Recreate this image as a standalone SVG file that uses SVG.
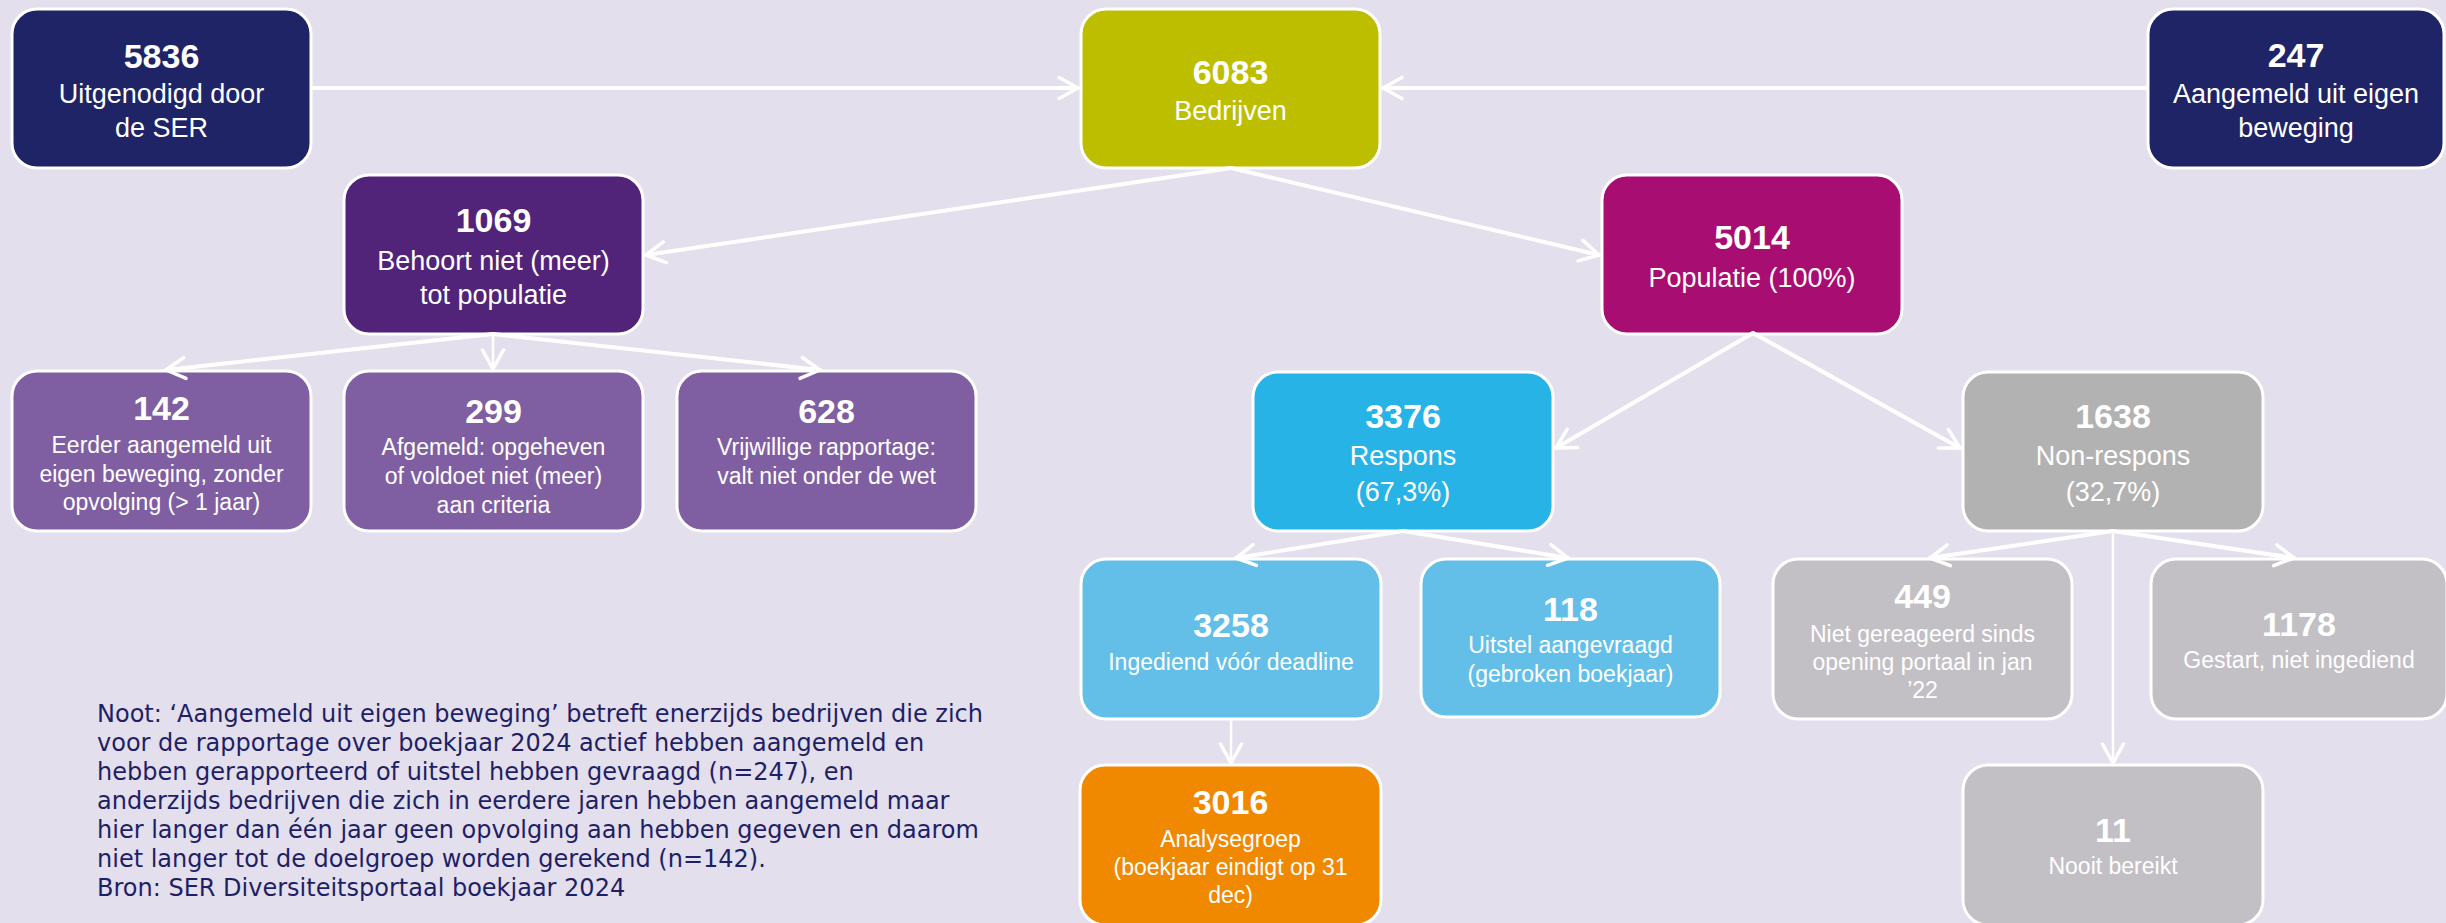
<svg xmlns="http://www.w3.org/2000/svg" width="2446" height="923" viewBox="0 0 2446 923">
<defs>
<style>
.box{stroke:#ffffff;stroke-width:3}
.num{font-family:"Liberation Sans",Arial,sans-serif;font-weight:bold;font-size:34px;fill:#ffffff;text-anchor:middle}
.lbl{font-family:"Liberation Sans",Arial,sans-serif;font-size:27px;fill:#ffffff;text-anchor:middle}
.sm{font-family:"Liberation Sans",Arial,sans-serif;font-size:23px;fill:#ffffff;text-anchor:middle}
.con{stroke:#ffffff;stroke-width:4;fill:none;stroke-linecap:round;marker-end:url(#arr)}
.thin{stroke:#ffffff;stroke-width:2.5;fill:none;marker-end:url(#arr)}
.note{font-family:"DejaVu Sans",Verdana,sans-serif;font-size:24px;fill:#1F1F66}
</style>
<marker id="arr" markerUnits="userSpaceOnUse" viewBox="-22 -13 24 26" markerWidth="24" markerHeight="26" refX="0" refY="0" orient="auto">
<path d="M-19,-10.5 L0,0 L-19,10.5" fill="none" stroke="#ffffff" stroke-width="3.5" stroke-linecap="round" stroke-linejoin="round"/>
</marker>
</defs>
<rect x="0" y="0" width="2446" height="923" fill="#E3DFEC"/>

<g id="n5836">
<rect class="box" x="12" y="9" width="299" height="159" rx="25" fill="#1F2466"/>
<text class="num" x="161.5" y="68">5836</text>
<text class="lbl" x="161.5" y="103">Uitgenodigd door</text>
<text class="lbl" x="161.5" y="137">de SER</text>
</g>
<g id="n6083">
<rect class="box" x="1081" y="9" width="299" height="159" rx="25" fill="#BEBE00"/>
<text class="num" x="1230.5" y="84">6083</text>
<text class="lbl" x="1230.5" y="120">Bedrijven</text>
</g>
<g id="n247">
<rect class="box" x="2148" y="9" width="296" height="159" rx="25" fill="#1F2466"/>
<text class="num" x="2296" y="67">247</text>
<text class="lbl" x="2296" y="103">Aangemeld uit eigen</text>
<text class="lbl" x="2296" y="137">beweging</text>
</g>
<g id="n1069">
<rect class="box" x="344" y="175" width="299" height="159" rx="25" fill="#51247A"/>
<text class="num" x="493.5" y="232">1069</text>
<text class="lbl" x="493.5" y="270">Behoort niet (meer)</text>
<text class="lbl" x="493.5" y="304">tot populatie</text>
</g>
<g id="n5014">
<rect class="box" x="1602" y="175" width="300" height="159" rx="25" fill="#A80D72"/>
<text class="num" x="1752" y="249">5014</text>
<text class="lbl" x="1752" y="287">Populatie (100%)</text>
</g>
<g id="n142">
<rect class="box" x="12" y="371" width="299" height="160" rx="25" fill="#7F5FA2"/>
<text class="num" x="161.5" y="420">142</text>
<text class="sm" x="161.5" y="453">Eerder aangemeld uit</text>
<text class="sm" x="161.5" y="482">eigen beweging, zonder</text>
<text class="sm" x="161.5" y="510">opvolging (&gt; 1 jaar)</text>
</g>
<g id="n299">
<rect class="box" x="344" y="371" width="299" height="160" rx="25" fill="#7F5FA2"/>
<text class="num" x="493.5" y="423">299</text>
<text class="sm" x="493.5" y="455">Afgemeld: opgeheven</text>
<text class="sm" x="493.5" y="484">of voldoet niet (meer)</text>
<text class="sm" x="493.5" y="513">aan criteria</text>
</g>
<g id="n628">
<rect class="box" x="677" y="371" width="299" height="160" rx="25" fill="#7F5FA2"/>
<text class="num" x="826.5" y="423">628</text>
<text class="sm" x="826.5" y="455">Vrijwillige rapportage:</text>
<text class="sm" x="826.5" y="484">valt niet onder de wet</text>
</g>
<g id="n3376">
<rect class="box" x="1253" y="372" width="300" height="159" rx="25" fill="#27B3E6"/>
<text class="num" x="1403" y="428">3376</text>
<text class="lbl" x="1403" y="465">Respons</text>
<text class="lbl" x="1403" y="501">(67,3%)</text>
</g>
<g id="n1638">
<rect class="box" x="1963" y="372" width="300" height="159" rx="25" fill="#B2B2B2"/>
<text class="num" x="2113" y="428">1638</text>
<text class="lbl" x="2113" y="465">Non-respons</text>
<text class="lbl" x="2113" y="501">(32,7%)</text>
</g>
<g id="n3258">
<rect class="box" x="1081" y="559" width="300" height="160" rx="25" fill="#63BFE8"/>
<text class="num" x="1231" y="637">3258</text>
<text class="sm" x="1231" y="670">Ingediend vóór deadline</text>
</g>
<g id="n118">
<rect class="box" x="1421" y="559" width="299" height="158" rx="25" fill="#63BFE8"/>
<text class="num" x="1570.5" y="621">118</text>
<text class="sm" x="1570.5" y="653">Uitstel aangevraagd</text>
<text class="sm" x="1570.5" y="682">(gebroken boekjaar)</text>
</g>
<g id="n449">
<rect class="box" x="1773" y="559" width="299" height="160" rx="25" fill="#C2C0C5"/>
<text class="num" x="1922.5" y="608">449</text>
<text class="sm" x="1922.5" y="642">Niet gereageerd sinds</text>
<text class="sm" x="1922.5" y="670">opening portaal in jan</text>
<text class="sm" x="1922.5" y="698">’22</text>
</g>
<g id="n1178">
<rect class="box" x="2151" y="559" width="296" height="160" rx="25" fill="#C2C0C5"/>
<text class="num" x="2299" y="636">1178</text>
<text class="sm" x="2299" y="668">Gestart, niet ingediend</text>
</g>
<g id="n3016">
<rect class="box" x="1080" y="765" width="301" height="160" rx="25" fill="#F08800"/>
<text class="num" x="1230.5" y="814">3016</text>
<text class="sm" x="1230.5" y="847">Analysegroep</text>
<text class="sm" x="1230.5" y="875">(boekjaar eindigt op 31</text>
<text class="sm" x="1230.5" y="903">dec)</text>
</g>
<g id="n11">
<rect class="box" x="1963" y="765" width="300" height="160" rx="25" fill="#C2C0C5"/>
<text class="num" x="2113" y="842">11</text>
<text class="sm" x="2113" y="874">Nooit bereikt</text>
</g>

<g id="connectors">
<line class="con" x1="312" y1="88" x2="1078" y2="88"/>
<line class="con" x1="2147" y1="88" x2="1383" y2="88"/>
<line class="con" x1="1231" y1="168" x2="646" y2="255"/>
<line class="con" x1="1231" y1="168" x2="1599" y2="255"/>
<line class="con" x1="493" y1="334" x2="166" y2="370"/>
<line class="thin" x1="493" y1="334" x2="493" y2="369"/>
<line class="con" x1="493" y1="334" x2="820" y2="370"/>
<line class="con" x1="1753" y1="333" x2="1556" y2="448"/>
<line class="con" x1="1753" y1="333" x2="1960" y2="448"/>
<line class="con" x1="1403" y1="531" x2="1236" y2="558"/>
<line class="con" x1="1403" y1="531" x2="1568" y2="558"/>
<line class="con" x1="2113" y1="531" x2="1930" y2="558"/>
<line class="con" x1="2113" y1="531" x2="2294" y2="558"/>
<line class="thin" x1="2113" y1="531" x2="2113" y2="763"/>
<line class="thin" x1="1231" y1="719" x2="1231" y2="763"/>
</g>

<g id="note">
<text class="note" x="97" y="722">Noot: ‘Aangemeld uit eigen beweging’ betreft enerzijds bedrijven die zich</text>
<text class="note" x="97" y="751">voor de rapportage over boekjaar 2024 actief hebben aangemeld en</text>
<text class="note" x="97" y="780">hebben gerapporteerd of uitstel hebben gevraagd (n=247), en</text>
<text class="note" x="97" y="809">anderzijds bedrijven die zich in eerdere jaren hebben aangemeld maar</text>
<text class="note" x="97" y="838">hier langer dan één jaar geen opvolging aan hebben gegeven en daarom</text>
<text class="note" x="97" y="867">niet langer tot de doelgroep worden gerekend (n=142).</text>
<text class="note" x="97" y="896">Bron: SER Diversiteitsportaal boekjaar 2024</text>
</g>
</svg>
